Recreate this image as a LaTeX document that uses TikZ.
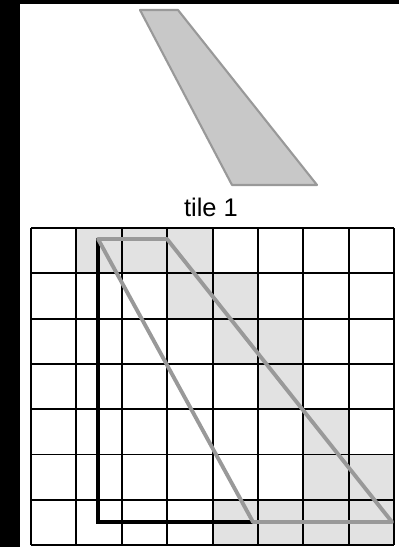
\documentclass[tikz,border=0pt]{standalone}
\usepackage{fontspec}
\setmainfont{Liberation Sans}
\usetikzlibrary{positioning}
\definecolor{shade}{HTML}{E2E2E2}
\definecolor{tilefill}{HTML}{C8C8C8}
\definecolor{edge}{HTML}{999999}
\tikzset{cell/.style={fill=shade},grid/.style={draw=black,line width=1.1pt},outline/.style={draw=edge,line width=2.2pt,line join=round},tileshape/.style={fill=tilefill,draw=edge,line width=1.2pt,line join=round},corner/.style={draw=black,line width=2.2pt},caption/.style={font=\fontsize{14.5}{17}\selectfont,anchor=base}}
\begin{document}
\begin{tikzpicture}[x=0.02cm,y=-0.02cm]
\useasboundingbox (0,0) rectangle (399,547);
\fill[black] (0,0) rectangle (20,547);
\fill[black] (0,0) rectangle (399,4);
% tile
\coordinate (ta) at (140,10);\coordinate (tb) at (178,10);\coordinate (tc) at (317,185);\coordinate (td) at (232,185);
\draw[tileshape] (ta)--(tb)--(tc)--(td)--cycle;
\node[caption] (title) at (211,216) {tile 1};
% grid cells touched by the tile
\foreach \c/\r in {1/0,2/0,3/0,3/1,4/1,4/2,5/2,5/3,6/4,6/5,7/5,4/6,5/6,6/6,7/6}
  \fill[cell] ({31+45.4*\c},{228+45.3*\r}) rectangle +(45.4,45.3);
\foreach \i in {0,...,8} \draw[grid] ({31+45.4*\i},228) -- ({31+45.4*\i},545);
\foreach \j in {0,...,7} \draw[grid] (31,{228+45.3*\j}) -- (394,{228+45.3*\j});
% bounding corner and the tile in the grid
\coordinate (pa) at (98,239);\coordinate (pb) at (167,239);\coordinate (pc) at (392,522);\coordinate (pd) at (253,522);
\draw[corner] (98,238)--(98,522)--(pd);
\draw[outline] (pa)--(pb)--(pc)--(pd)--cycle;
\end{tikzpicture}
\end{document}
